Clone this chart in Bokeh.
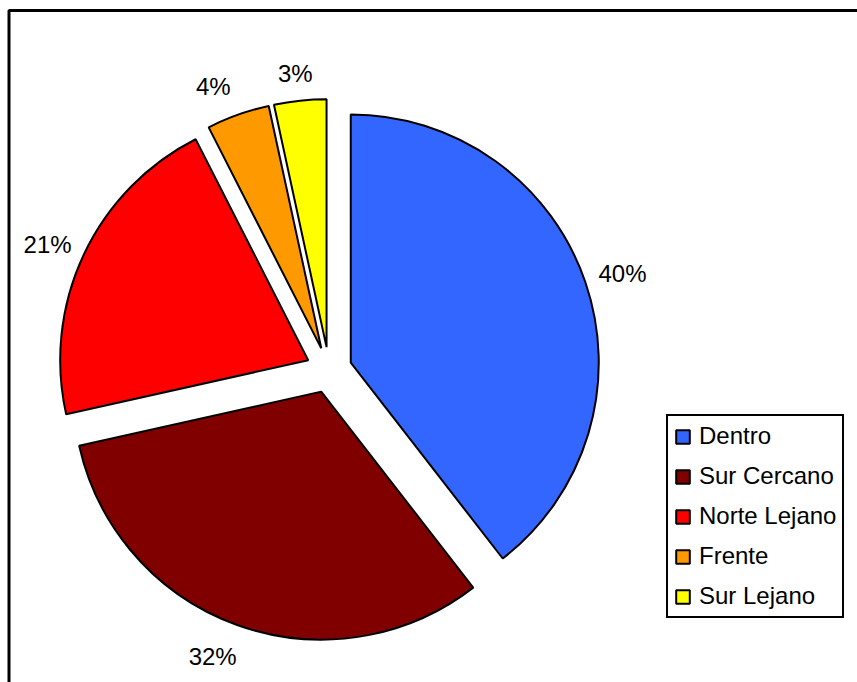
import numpy as np
from bokeh.plotting import figure
from bokeh.models import ColumnDataSource, Range1d, Legend, LegendItem, BoxAnnotation
from bokeh.embed import file_html
from bokeh.resources import INLINE
from bokeh.core.properties import value

# ---- data ----
categories = ["Dentro", "Sur Cercano", "Norte Lejano", "Frente", "Sur Lejano"]
percentages = [39.5, 32.0, 21.0, 4.1, 3.4]   # labels show the rounded values
colors = ["#3366FF", "#800000", "#FF0000", "#FF9900", "#FFFF00"]

# ---- layout ----
W, H = 857, 682
CX, CY = 328.5, 312.5
R = 248
EXPLODE = 23
LABEL_DIST = [286, 286, 285, 283, 275]          # from each exploded slice's centre
LABEL_ANGLE_NUDGE = [-0.75, -2.5, 1.3, 2.8, 0.4]  # degrees, label placement tweak
FONT = "Liberation Sans"

vals = np.array(percentages, dtype=float)
frac = vals / vals.sum()
cum_end = np.cumsum(frac)
cum_start = cum_end - frac
start = np.pi / 2 - 2 * np.pi * cum_start
end = np.pi / 2 - 2 * np.pi * cum_end
mid = (start + end) / 2
sx = CX + EXPLODE * np.cos(mid)
sy = CY + EXPLODE * np.sin(mid)
lang = mid + np.radians(LABEL_ANGLE_NUDGE)
ldist = np.array(LABEL_DIST, dtype=float)

src = ColumnDataSource(dict(
    name=categories,
    color=colors,
    start=start,
    end=end,
    x=sx,
    y=sy,
    lx=sx + ldist * np.cos(lang),
    ly=sy + ldist * np.sin(lang),
    label=[f"{int(np.floor(f * 100 + 0.5)):d}%" for f in frac],
))

p = figure(width=W, height=H, output_backend="svg", toolbar_location=None,
           x_range=Range1d(0, W), y_range=Range1d(0, H),
           x_axis_location=None, y_axis_location=None, min_border=0)
p.xgrid.visible = False
p.ygrid.visible = False
p.outline_line_color = None
p.background_fill_color = "white"
p.border_fill_color = "white"

# chart-area frame (left and top edges visible; the rest runs off the page)
p.add_layout(BoxAnnotation(left=8.5, top=H - 10, right=W + 30, bottom=-30,
                           fill_alpha=0, line_color="black", line_width=3,
                           line_alpha=1))

r = p.wedge(x="x", y="y", radius=R, start_angle="start", end_angle="end",
            direction="clock", source=src, fill_color="color",
            line_color="black", line_width=2)

p.text(x="lx", y="ly", text="label", source=src, text_align="center",
       text_baseline="middle", text_font=value(FONT), text_font_size="24px",
       text_color="black")

legend = Legend(items=[LegendItem(label=c, renderers=[r], index=i)
                       for i, c in enumerate(categories)],
                location=(666, 64))
legend.label_text_font = FONT
legend.label_text_font_size = "24px"
legend.label_text_color = "black"
legend.glyph_width = 17
legend.glyph_height = 17
legend.label_standoff = 8
legend.label_height = 24
legend.spacing = 12
legend.padding = 6
legend.margin = 0
legend.border_line_color = "black"
legend.border_line_alpha = 1
legend.border_line_width = 2
legend.background_fill_color = "white"
legend.background_fill_alpha = 1
p.add_layout(legend)

open("out.html", "w").write(file_html(p, INLINE))
